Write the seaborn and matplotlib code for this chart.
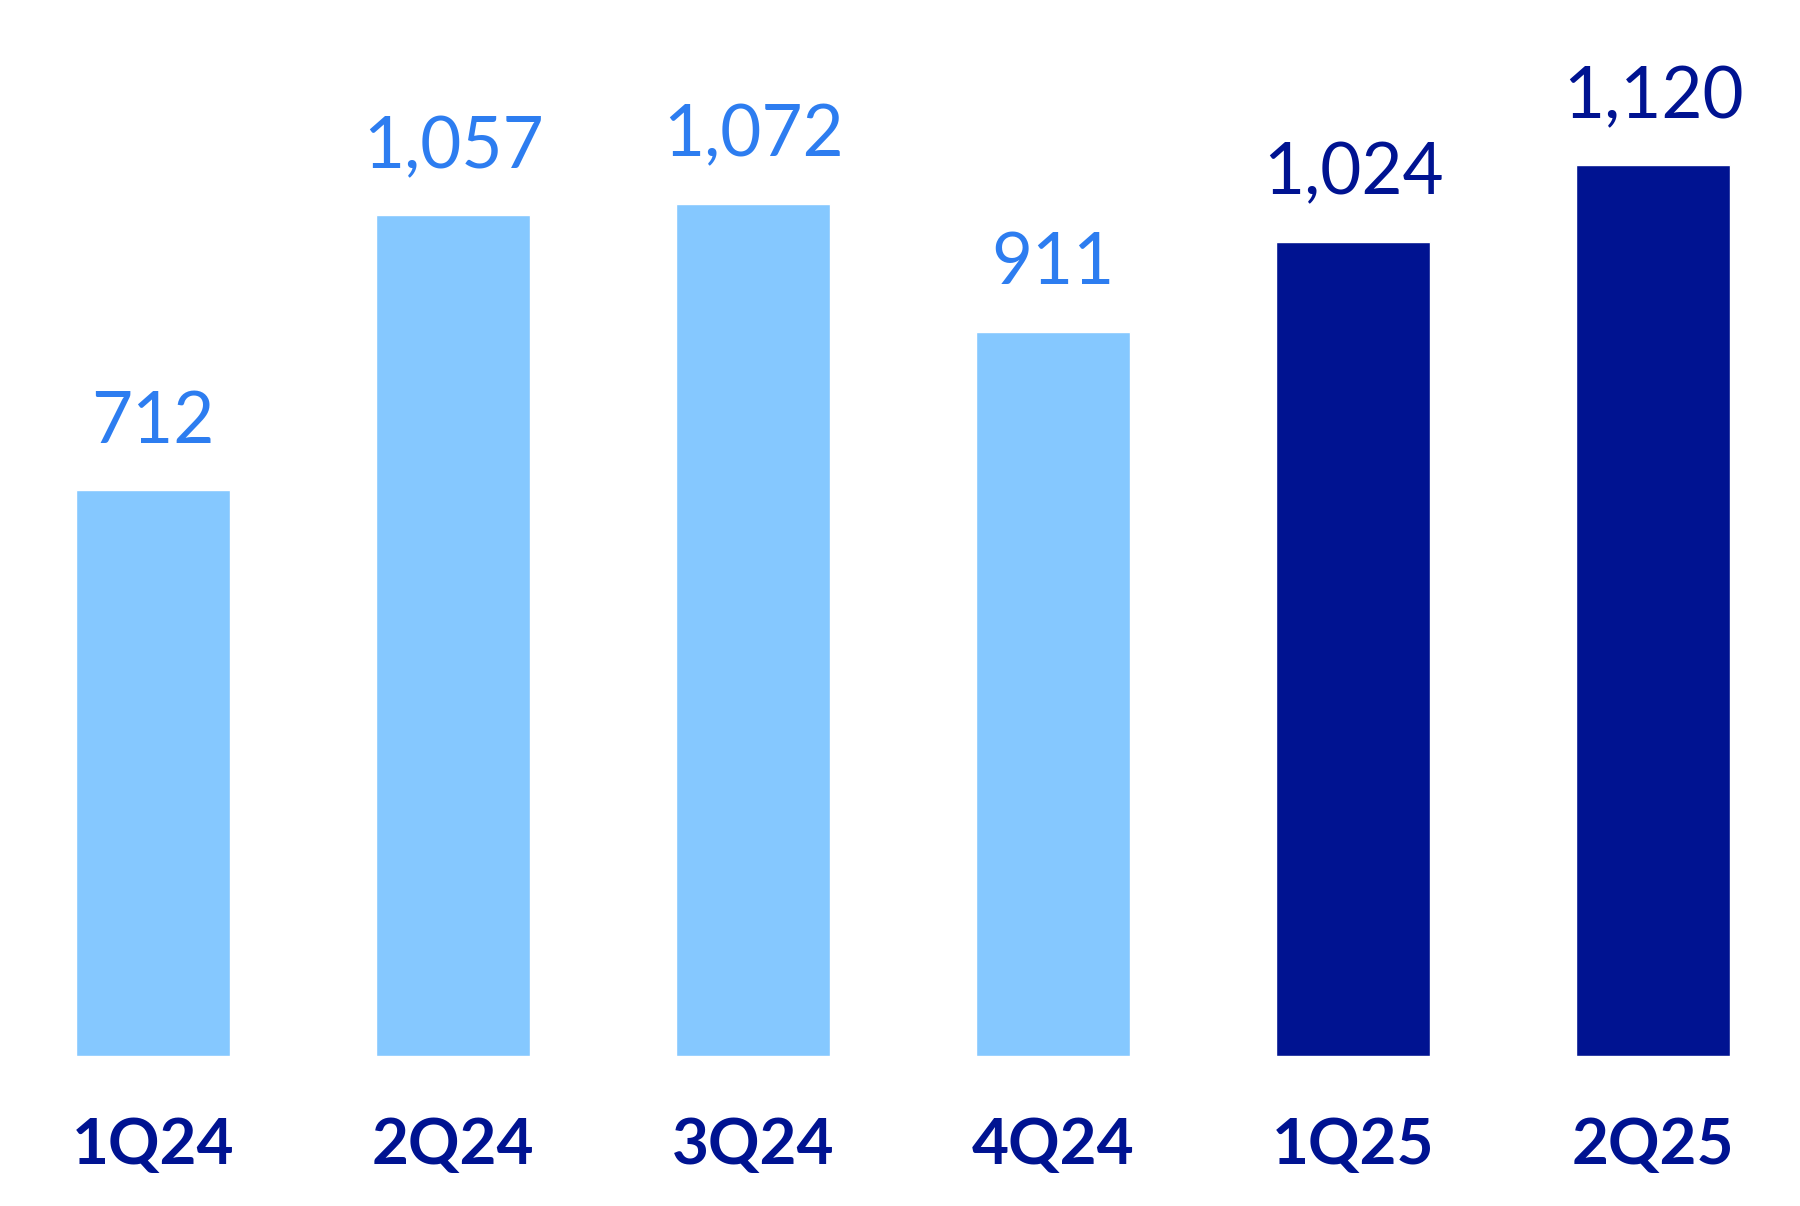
import matplotlib
matplotlib.use('Agg')
import matplotlib.pyplot as plt
import seaborn as sns
import pandas as pd

# quarterly values
quarters = ['1Q24', '2Q24', '3Q24', '4Q24', '1Q25', '2Q25']
values = [712, 1057, 1072, 911, 1024, 1120]

light_bar = '#85C8FF'
dark_bar = '#001391'
light_text = '#2D7DF0'
dark_text = '#001391'

bar_colors = [light_bar] * 4 + [dark_bar] * 2
label_colors = [light_text] * 4 + [dark_text] * 2

df = pd.DataFrame({'quarter': quarters, 'value': values})

sns.set_style('white')
plt.rcParams['font.family'] = ['Lato', 'DejaVu Sans']

fig = plt.figure(figsize=(18, 12.06), dpi=100)
ax = fig.add_axes([0, 0.1244, 1, 0.8756])

sns.barplot(data=df, x='quarter', y='value', hue='quarter', palette=bar_colors,
            width=0.516, legend=False, saturation=1, ax=ax)

ax.set_xlim(-0.510, 5.490)
ax.set_ylim(0, 1328)

# value labels above each bar
for i, (v, c) in enumerate(zip(values, label_colors)):
    ax.annotate(f'{v:,}', xy=(i, v), xytext=(0, 34), textcoords='offset points',
                ha='center', va='baseline', fontsize=51, color=c)

ax.set_xlabel('')
ax.set_ylabel('')
ax.set_yticks([])
ax.tick_params(axis='x', length=0, pad=44)
for lab in ax.get_xticklabels():
    lab.set_fontsize(46)
    lab.set_fontweight('bold')
    lab.set_color(dark_text)
sns.despine(left=True, bottom=True)

fig.savefig('out.png', dpi=100)
